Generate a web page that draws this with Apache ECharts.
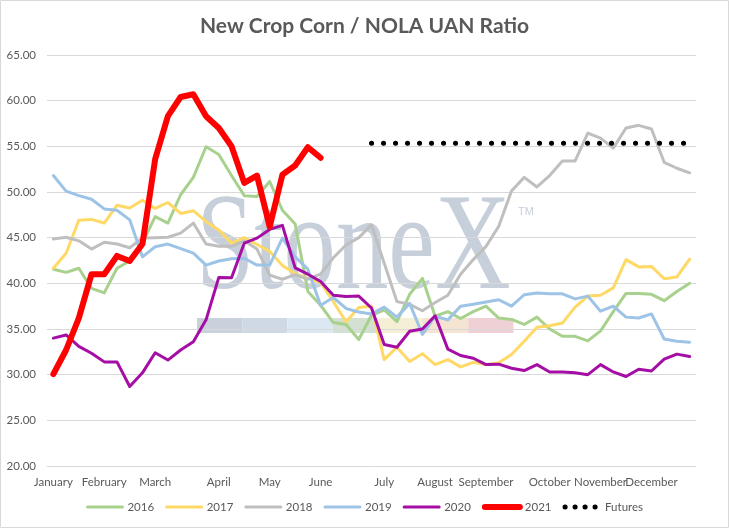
<!DOCTYPE html>
<html>
<head>
<meta charset="utf-8">
<script src="https://cdn.jsdelivr.net/npm/echarts@6/dist/echarts.min.js"></script>
<style>
  html, body { margin: 0; padding: 0; background: #fff; }
  #chart { width: 729px; height: 528px; }
</style>
</head>
<body>
<div id="chart"></div>
<script>
// weekly axis, month name on the first week of each month
var monthNames = ['January', 'February', 'March', 'April', 'May', 'June',
                  'July', 'August', 'September', 'October', 'November', 'December'];
var monthWeek = [0, 4, 8, 13, 17, 21, 26, 30, 34, 39, 43, 47];
var weekCount = 51;

var y2016 = [41.55, 41.2, 41.65, 39.45, 38.95, 41.65, 42.45, 44.4, 47.3, 46.6,
             49.7, 51.6, 54.95, 54.1, 51.8, 49.6, 49.5, 51.15, 48.0, 46.5,
             39.1, 37.6, 35.7, 35.5, 33.85, 36.5, 37.1, 35.8, 38.8, 40.55,
             36.4, 36.9, 36.15, 36.9, 37.5, 36.2, 36.05, 35.5, 36.3, 35.0,
             34.2, 34.2, 33.7, 34.8, 36.9, 38.9, 38.9, 38.8, 38.1, 39.1, 40.0];
var y2017 = [41.65, 43.3, 46.9, 47.0, 46.6, 48.55, 48.25, 49.1, 48.2, 48.85,
             47.65, 47.95, 46.75, 45.85, 44.4, 45.0, 44.25, 43.5, 41.95, 41.05,
             40.55, 40.1, 38.0, 35.8, 37.35, 37.5, 31.65, 33.0, 31.45, 32.3,
             31.1, 31.65, 30.85, 31.35, 31.1, 31.3, 32.2, 33.65, 35.2, 35.35,
             35.65, 37.4, 38.6, 38.7, 39.5, 42.6, 41.8, 41.85, 40.5, 40.7, 42.65];
var y2018 = [44.85, 45.05, 44.65, 43.75, 44.5, 44.3, 43.9, 44.95, 45.0, 45.05,
             45.5, 46.6, 44.3, 44.05, 44.05, 44.65, 43.75, 40.9, 40.45, 40.95,
             40.45, 41.0, 42.8, 44.2, 45.0, 46.4, 42.2, 38.0, 37.7, 37.0,
             37.9, 38.7, 41.0, 42.6, 44.05, 46.25, 50.1, 51.6, 50.55, 51.8,
             53.4, 53.4, 56.45, 55.9, 54.8, 57.0, 57.3, 56.9, 53.25, 52.6, 52.1];
var y2019 = [51.8, 50.1, 49.6, 49.2, 48.15, 48.0, 46.95, 42.9, 44.0, 44.3,
             43.8, 43.3, 42.0, 42.45, 42.7, 42.75, 42.0, 42.0, 44.95, 42.9,
             41.55, 37.6, 38.45, 37.25, 36.85, 36.65, 37.4, 36.3, 37.8, 34.4,
             36.4, 36.0, 37.5, 37.7, 37.95, 38.2, 37.5, 38.75, 38.95, 38.85,
             38.85, 38.3, 38.6, 36.95, 37.5, 36.3, 36.2, 36.65, 33.9, 33.65, 33.55];
var y2020 = [34.0, 34.35, 33.1, 32.35, 31.4, 31.4, 28.7, 30.2, 32.4, 31.6,
             32.7, 33.6, 36.0, 40.65, 40.6, 44.4, 44.95, 45.9, 46.35, 41.7,
             41.0, 40.2, 38.7, 38.55, 38.6, 37.3, 33.3, 33.0, 34.75, 35.0,
             36.45, 32.8, 32.1, 31.8, 31.1, 31.15, 30.7, 30.45, 31.1, 30.3,
             30.3, 30.2, 30.0, 31.1, 30.3, 29.8, 30.6, 30.4, 31.7, 32.25, 32.0];
var y2021 = [30.05, 32.7, 36.2, 41.0, 41.0, 43.0, 42.45, 44.3, 53.6, 58.3,
             60.4, 60.7, 58.3, 57.0, 55.0, 51.0, 51.8, 46.2, 51.9, 52.9,
             54.9, 53.75];
var futuresStart = 25;
var futures = [55.35, 55.35, 55.35, 55.35, 55.35, 55.35, 55.35, 55.35, 55.35,
               55.35, 55.35, 55.35, 55.35, 55.35, 55.35, 55.35, 55.35, 55.35,
               55.35, 55.35, 55.35, 55.35, 55.35, 55.35, 55.35, 55.35];

var categories = [];
for (var i = 0; i < weekCount; i++) categories.push('');
monthWeek.forEach(function (w, k) { categories[w] = monthNames[k]; });

var futuresData = [];
for (var j = 0; j < futuresStart; j++) futuresData.push(null);
futuresData = futuresData.concat(futures);

var font = 'Lato';
var textColor = '#595959';

function yearLine(name, data, color, width) {
    return {
        name: name,
        type: 'line',
        data: data,
        symbol: 'none',
        lineStyle: { color: color, width: width, cap: 'round', join: 'round' },
        itemStyle: { color: color }
    };
}

// watermark bars under the logo
var barColors = ['#c9d1dc', '#cfd9e5', '#dbe8f3', '#d2e1d2', '#f5efd6', '#f6e4d2', '#efd1d5'];
var watermark = [{
    type: 'text',
    x: 196, y: 252, scaleX: 0.76, z: -1, silent: true,
    style: { text: 'StoneX', font: '138px "Liberation Serif"', fill: '#c6cfda',
             verticalAlign: 'middle', align: 'left' }
}, {
    type: 'text',
    x: 518, y: 212, z: -1, silent: true,
    style: { text: 'TM', font: '11px "Liberation Sans"', fill: '#c6cfda', verticalAlign: 'middle' }
}];
barColors.forEach(function (c, k) {
    watermark.push({
        type: 'rect', z: -1, silent: true,
        shape: { x: 197 + k * 45.2, y: 318, width: 45.2, height: 15 },
        style: { fill: c }
    });
});
watermark.push({
    type: 'rect', silent: true,
    shape: { x: 0.5, y: 0.5, width: 728, height: 527 },
    style: { fill: 'none', stroke: '#d9d9d9', lineWidth: 1 }
});

var chart = echarts.init(document.getElementById('chart'));
var option = {
    animation: false,
    textStyle: { fontFamily: font },
    title: {
        text: 'New Crop Corn / NOLA UAN Ratio',
        left: 'center',
        top: 11,
        textStyle: { fontSize: 21, fontWeight: 'bold', color: textColor, fontFamily: font }
    },
    legend: {
        bottom: 10,
        left: 'center',
        itemWidth: 35,
        itemHeight: 8,
        itemGap: 11,
        itemStyle: { opacity: 0 },
        textStyle: { fontSize: 11.5, color: textColor, fontFamily: font },
        data: [
            { name: '2016', lineStyle: { width: 3 } },
            { name: '2017', lineStyle: { width: 3 } },
            { name: '2018', lineStyle: { width: 3 } },
            { name: '2019', lineStyle: { width: 3 } },
            { name: '2020', lineStyle: { width: 3 } },
            { name: '2021', lineStyle: { width: 6 } },
            { name: 'Futures', lineStyle: { width: 5, type: [0.1, 9.9], cap: 'round' } }
        ]
    },
    grid: { left: 47, right: 33, top: 55, bottom: 62 },
    graphic: watermark,
    xAxis: {
        type: 'category',
        data: categories,
        boundaryGap: true,
        axisLine: { lineStyle: { color: '#d9d9d9' } },
        axisTick: { show: false },
        axisLabel: { interval: 0, color: textColor, fontSize: 11.5, margin: 10 }
    },
    yAxis: {
        type: 'value',
        min: 20,
        max: 65,
        interval: 5,
        axisLine: { show: false },
        axisTick: { show: false },
        axisLabel: {
            color: textColor, fontSize: 11.5, margin: 11,
            formatter: function (v) { return v.toFixed(2); }
        },
        splitLine: { lineStyle: { color: '#d9d9d9' } }
    },
    series: [
        yearLine('2016', y2016, '#a9d18e', 3),
        yearLine('2017', y2017, '#ffd966', 3),
        yearLine('2018', y2018, '#bfbfbf', 3),
        yearLine('2019', y2019, '#9dc3e6', 3),
        yearLine('2020', y2020, '#a50ea5', 3),
        yearLine('2021', y2021, '#ff0000', 6),
        {
            name: 'Futures',
            type: 'line',
            data: futuresData,
            symbol: 'none',
            lineStyle: { color: '#000000', width: 5, type: [0.1, 11.9], cap: 'round' },
            itemStyle: { color: '#000000' }
        }
    ]
};
chart.setOption(option);
</script>
</body>
</html>
